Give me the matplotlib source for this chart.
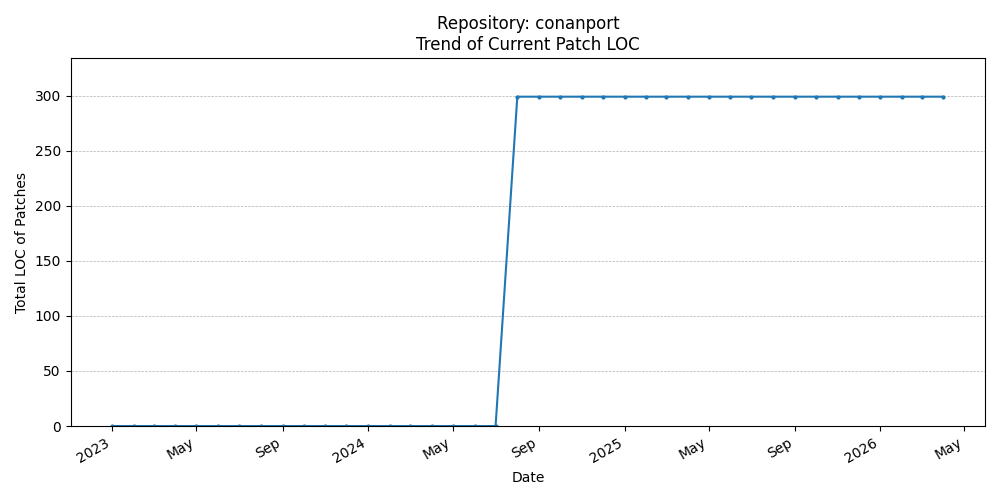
import matplotlib
matplotlib.use("Agg")
import matplotlib.pyplot as plt
import matplotlib.dates as mdates
import pandas as pd

# monthly snapshots, 2023-01 .. 2026-04
dates = pd.date_range("2023-01-01", "2026-04-01", freq="MS")
n_zero = 19  # 2023-01 .. 2024-07 had no patches
patch_loc = [0] * n_zero + [299] * (len(dates) - n_zero)

fig, ax = plt.subplots(figsize=(10, 5), dpi=100)
ax.plot(dates, patch_loc, marker="o", markersize=2, color="#1f77b4")
ax.set_ylim(0, 334)
ax.set_title("Repository: conanport\nTrend of Current Patch LOC")
ax.set_xlabel("Date")
ax.set_ylabel("Total LOC of Patches")
ax.grid(axis="y", linestyle="--", linewidth=0.5)
loc = mdates.AutoDateLocator()
ax.xaxis.set_major_locator(loc)
ax.xaxis.set_major_formatter(mdates.ConciseDateFormatter(loc))
fig.autofmt_xdate()
fig.tight_layout()
fig.savefig("out.png")
